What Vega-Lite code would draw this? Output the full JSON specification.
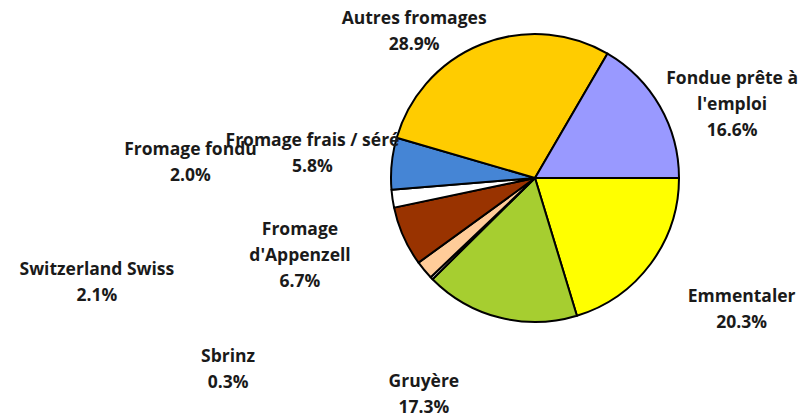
{
  "$schema": "https://vega.github.io/schema/vega-lite/v6.json",
  "autosize": {"type": "none"},
  "width": 534,
  "height": 356,
  "padding": {"left": 268, "top": 0, "right": 0, "bottom": 63},
  "background": "white",
  "config": {"view": {"stroke": null}},
  "data": {
    "values": [
      {"order": 1, "name": "Emmentaler", "value": 20.3},
      {"order": 2, "name": "Gruyère", "value": 17.3},
      {"order": 3, "name": "Sbrinz", "value": 0.3},
      {"order": 4, "name": "Switzerland Swiss", "value": 2.1},
      {"order": 5, "name": "Fromage d'Appenzell", "value": 6.7},
      {"order": 6, "name": "Fromage fondu", "value": 2.0},
      {"order": 7, "name": "Fromage frais / séré", "value": 5.8},
      {"order": 8, "name": "Autres fromages", "value": 28.9},
      {"order": 9, "name": "Fondue prête à l'emploi", "value": 16.6}
    ]
  },
  "transform": [
    {"calculate": "replace(replace(datum.name, ' l\\'', '\\nl\\''), 'Fromage d\\'', 'Fromage\\nd\\'') + '\\n' + format(datum.value, '.1f') + '%'", "as": "label"}
  ],
  "encoding": {
    "theta": {"field": "value", "type": "quantitative", "stack": true, "scale": {"range": [1.5707963, 7.8539816]}},
    "order": {"field": "order", "type": "quantitative"}
  },
  "layer": [
    {
      "mark": {"type": "arc", "outerRadius": 144, "stroke": "black", "strokeWidth": 2, "strokeJoin": "round"},
      "encoding": {
        "color": {
          "field": "name", "type": "nominal", "legend": null,
          "scale": {
            "domain": ["Emmentaler", "Gruyère", "Sbrinz", "Switzerland Swiss", "Fromage d'Appenzell", "Fromage fondu", "Fromage frais / séré", "Autres fromages", "Fondue prête à l'emploi"],
            "range": ["#FFFF00", "#A6CE30", "#FFFFFF", "#FFCC99", "#993300", "#FFFFFF", "#4585D5", "#FFCC00", "#9999FF"]
          }
        }
      }
    },
    {"mark": {"type": "text", "radius": 244, "thetaOffset": -0.077, "dy": -11, "lineBreak": "\n", "font": "Open Sans", "fontWeight": "bold", "fontSize": 17.5, "lineHeight": 26, "fill": "#1a1a1a", "align": "center", "baseline": "middle"},
     "encoding": {"text": {"condition": {"test": "datum.order === 1", "field": "label"}, "value": ""}}},
    {"mark": {"type": "text", "radius": 242, "thetaOffset": 0.229, "dy": -11, "lineBreak": "\n", "font": "Open Sans", "fontWeight": "bold", "fontSize": 17.5, "lineHeight": 26, "fill": "#1a1a1a", "align": "center", "baseline": "middle"},
     "encoding": {"text": {"condition": {"test": "datum.order === 2", "field": "label"}, "value": ""}}},
    {"mark": {"type": "text", "radius": 361, "thetaOffset": 0.215, "dy": -11, "lineBreak": "\n", "font": "Open Sans", "fontWeight": "bold", "fontSize": 17.5, "lineHeight": 26, "fill": "#1a1a1a", "align": "center", "baseline": "middle"},
     "encoding": {"text": {"condition": {"test": "datum.order === 3", "field": "label"}, "value": ""}}},
    {"mark": {"type": "text", "radius": 450, "thetaOffset": 0.464, "dy": -11, "lineBreak": "\n", "font": "Open Sans", "fontWeight": "bold", "fontSize": 17.5, "lineHeight": 26, "fill": "#1a1a1a", "align": "center", "baseline": "middle"},
     "encoding": {"text": {"condition": {"test": "datum.order === 4", "field": "label"}, "value": ""}}},
    {"mark": {"type": "text", "radius": 247, "thetaOffset": 0.105, "dy": -24, "lineBreak": "\n", "font": "Open Sans", "fontWeight": "bold", "fontSize": 17.5, "lineHeight": 26, "fill": "#1a1a1a", "align": "center", "baseline": "middle"},
     "encoding": {"text": {"condition": {"test": "datum.order === 5", "field": "label"}, "value": ""}}},
    {"mark": {"type": "text", "radius": 345, "thetaOffset": 0.194, "dy": -11, "lineBreak": "\n", "font": "Open Sans", "fontWeight": "bold", "fontSize": 17.5, "lineHeight": 26, "fill": "#1a1a1a", "align": "center", "baseline": "middle"},
     "encoding": {"text": {"condition": {"test": "datum.order === 6", "field": "label"}, "value": ""}}},
    {"mark": {"type": "text", "radius": 224, "thetaOffset": 0.014, "dy": -11, "lineBreak": "\n", "font": "Open Sans", "fontWeight": "bold", "fontSize": 17.5, "lineHeight": 26, "fill": "#1a1a1a", "align": "center", "baseline": "middle"},
     "encoding": {"text": {"condition": {"test": "datum.order === 7", "field": "label"}, "value": ""}}},
    {"mark": {"type": "text", "radius": 191, "thetaOffset": -0.305, "dy": -11, "lineBreak": "\n", "font": "Open Sans", "fontWeight": "bold", "fontSize": 17.5, "lineHeight": 26, "fill": "#1a1a1a", "align": "center", "baseline": "middle"},
     "encoding": {"text": {"condition": {"test": "datum.order === 8", "field": "label"}, "value": ""}}},
    {"mark": {"type": "text", "radius": 211, "thetaOffset": 0.157, "dy": -24, "lineBreak": "\n", "font": "Open Sans", "fontWeight": "bold", "fontSize": 17.5, "lineHeight": 26, "fill": "#1a1a1a", "align": "center", "baseline": "middle"},
     "encoding": {"text": {"condition": {"test": "datum.order === 9", "field": "label"}, "value": ""}}}
  ]
}
